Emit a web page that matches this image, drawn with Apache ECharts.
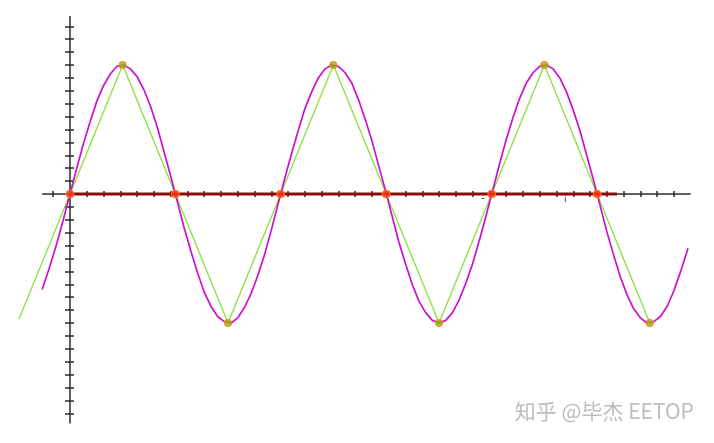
<!DOCTYPE html>
<html>
<head>
<meta charset="utf-8">
<script src="https://cdn.jsdelivr.net/npm/echarts@6/dist/echarts.min.js"></script>
<style>
html,body{margin:0;padding:0;background:#fff;}
#chart{width:714px;height:443px;}
</style>
</head>
<body>
<div id="chart"></div>
<script>
const sineX = [-0.83, -0.6, -0.4, -0.2, 0, 0.2, 0.4, 0.6, 0.8, 1.0, 1.2, 1.4, 1.6, 1.8, 2.0, 2.2, 2.4, 2.6, 2.8, 3.0, 3.2, 3.4, 3.6, 3.8, 4.0, 4.2, 4.4, 4.6, 4.8, 5.0, 5.2, 5.4, 5.6, 5.8, 6.0, 6.2, 6.4, 6.6, 6.8, 7.0, 7.2, 7.4, 7.6, 7.8, 8.0, 8.2, 8.4, 8.6, 8.8, 9.0, 9.2, 9.4, 9.6, 9.8, 10.0, 10.2, 10.4, 10.6, 10.8, 11.0, 11.2, 11.4, 11.6, 11.8, 12.0, 12.2, 12.4, 12.6, 12.8, 13.0, 13.2, 13.4, 13.6, 13.8, 14.0, 14.2, 14.4, 14.6, 14.8, 15.0, 15.2, 15.4, 15.6, 15.8, 16.0, 16.2, 16.4, 16.6, 16.8, 17.0, 17.2, 17.4, 17.6, 17.8, 18.0, 18.2, 18.42];
const sineY = [-0.74, -0.56, -0.39, -0.2, 0, 0.2, 0.39, 0.56, 0.72, 0.84, 0.93, 0.99, 1.0, 0.97, 0.91, 0.81, 0.68, 0.52, 0.33, 0.14, -0.06, -0.26, -0.44, -0.61, -0.76, -0.87, -0.95, -0.99, -1.0, -0.96, -0.88, -0.77, -0.63, -0.47, -0.28, -0.08, 0.12, 0.31, 0.49, 0.66, 0.79, 0.9, 0.97, 1.0, 0.99, 0.94, 0.86, 0.73, 0.58, 0.41, 0.22, 0.03, -0.17, -0.37, -0.54, -0.7, -0.83, -0.92, -0.98, -1.0, -0.98, -0.92, -0.82, -0.69, -0.54, -0.36, -0.17, 0.03, 0.23, 0.42, 0.59, 0.74, 0.86, 0.94, 0.99, 1.0, 0.97, 0.9, 0.79, 0.65, 0.49, 0.3, 0.11, -0.09, -0.29, -0.47, -0.64, -0.78, -0.89, -0.96, -1.0, -0.99, -0.95, -0.87, -0.75, -0.6, -0.42];

// Triangle wave (green) vertices
const triX = [-1.52, 1.57, 4.71, 7.85, 11.0, 14.14, 17.28];
const triY = [-0.97, 1, -1, 1, -1, 1, -1];

// Zero-crossing points on the red baseline
const zeroX = [0, 3.14, 6.28, 9.42, 12.57, 15.71];
// Red baseline extent
const baseX = [0, 16.3];

// Peak / trough markers
const peakX = [1.57, 4.71, 7.85, 11.0, 14.14, 17.28];
const peakY = [1, -1, 1, -1, 1, -1];

// Axes: visible line extents and tick values
const xLineExtent = [-0.83, 18.5];
const yLineExtent = [-1.78, 1.38];
const xMin = -1.55, xMax = 18.5;
const yMin = -1.78, yMax = 1.38;
const xTicks = [-0.5, 0.5, 1, 1.5, 2, 2.5, 3, 3.5, 4, 4.5, 5, 5.5, 6, 6.5, 7, 7.5, 8, 8.5, 9, 9.5, 10, 10.5, 11, 11.5, 12, 12.5, 13, 13.5, 14, 14.5, 15, 15.5, 16, 16.5, 17, 17.5, 18];
const yTicks = [-1.7, -1.6, -1.5, -1.4, -1.3, -1.2, -1.1, -1.0, -0.9, -0.8, -0.7, -0.6, -0.5, -0.4, -0.3, -0.2, -0.1, 0.1, 0.2, 0.3, 0.4, 0.5, 0.6, 0.7, 0.8, 0.9, 1.0, 1.1, 1.2, 1.3];

const zip = (a, b) => a.map((v, i) => [v, b[i]]);

const axisColor = '#2a2a2a';
function xAx(pos, len) {
  return {
    type: 'value', position: pos, min: xMin, max: xMax,
    splitLine: {show: false},
    axisLine: {show: false, onZero: true},
    axisTick: {show: true, customValues: xTicks, length: len, lineStyle: {color: axisColor, width: 1.5}},
    axisLabel: {show: false}
  };
}
function yAx(pos, len) {
  return {
    type: 'value', position: pos, min: yMin, max: yMax,
    splitLine: {show: false},
    axisLine: {show: false, onZero: true},
    axisTick: {show: true, customValues: yTicks, length: len, lineStyle: {color: axisColor, width: 1.5}},
    axisLabel: {show: false}
  };
}

const chart = echarts.init(document.getElementById('chart'), null, {renderer: 'canvas'});
chart.setOption({
  animation: false,
  backgroundColor: '#ffffff',
  grid: {left: 18, right: 23.3, top: 16, bottom: 19.4, containLabel: false},
  xAxis: [xAx('bottom', 3), xAx('top', 3)],
  yAxis: [yAx('left', 5), yAx('right', 4)],
  series: [
    {
      type: 'line', data: xLineExtent.map(x => [x, 0]), symbol: 'none', silent: true,
      lineStyle: {color: axisColor, width: 1.5}, z: 1
    },
    {
      type: 'line', data: yLineExtent.map(y => [0, y]), symbol: 'none', silent: true,
      lineStyle: {color: axisColor, width: 1.5}, z: 1
    },
    {
      type: 'line', data: zip(triX, triY), clip: false, symbol: 'none',
      lineStyle: {color: '#8ce03c', width: 1.3}, z: 2
    },
    {
      type: 'line', data: zip(sineX, sineY), symbol: 'none', clip: false,
      lineStyle: {color: '#cc10cc', width: 1.7}, z: 3
    },
    {
      type: 'line', data: baseX.map(x => [x, 0]), symbol: 'none',
      lineStyle: {color: '#8a0a0a', width: 3}, z: 4
    },
    {
      type: 'scatter', data: zeroX.map(x => [x, 0]), symbolSize: 8,
      itemStyle: {color: '#ff3a10', borderColor: '#ff8a20', borderWidth: 1}, z: 5
    },
    {
      type: 'scatter', data: zip(peakX, peakY), symbolSize: 7, clip: false,
      itemStyle: {color: '#8fb400', borderColor: '#ff7a20', borderWidth: 1.2}, z: 5
    }
  ],
  graphic: [
    {type: 'text', left: 481, top: 193, style: {text: '-', fontSize: 10, fill: '#333', fontFamily: 'DejaVu Sans'}},
    {type: 'text', left: 564, top: 195, style: {text: 'i', fontSize: 9, fill: '#333', fontFamily: 'DejaVu Sans'}},
    {type: 'text', right: 20, top: 400, style: {text: '知乎 @毕杰 EETOP', fontSize: 21, fill: '#bdbdbd', fontFamily: 'Noto Sans CJK SC', stroke: '#ffffff', lineWidth: 0.5}}
  ]
});
</script>
</body>
</html>
